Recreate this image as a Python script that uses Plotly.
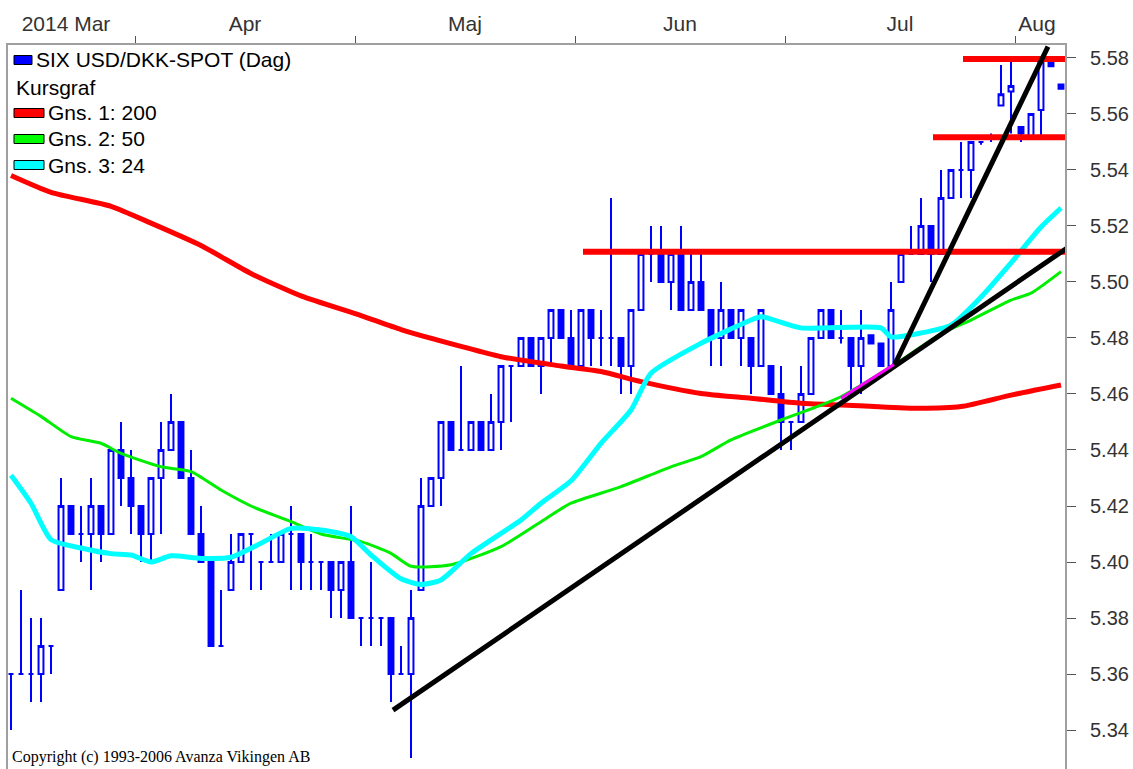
import plotly.graph_objects as go
import pandas as pd

# ---------------- data ----------------
dates = pd.bdate_range("2014-03-14", "2014-08-08")  # 106 trading days
day = list(range(len(dates)))

open_ = [5.36, 5.36, 5.36, 5.36, 5.37, 5.39, 5.42, 5.41, 5.41, 5.42,
         5.41, 5.44, 5.43, 5.42, 5.41, 5.43, 5.44, 5.45, 5.43, 5.41,
         5.40, 5.37, 5.39, 5.40, 5.41, 5.40, 5.40, 5.40, 5.41, 5.41,
         5.40, 5.40, 5.40, 5.39, 5.40, 5.38, 5.38, 5.38, 5.38, 5.36,
         5.36, 5.39, 5.42, 5.43, 5.45, 5.44, 5.44, 5.45, 5.44, 5.45,
         5.47, 5.47, 5.48, 5.47, 5.48, 5.49, 5.48, 5.47, 5.49, 5.48,
         5.48, 5.48, 5.47, 5.49, 5.51, 5.51, 5.50, 5.51, 5.49, 5.50,
         5.49, 5.48, 5.49, 5.48, 5.48, 5.47, 5.47, 5.46, 5.45, 5.45,
         5.46, 5.48, 5.49, 5.48, 5.48, 5.47, 5.481, 5.478, 5.47, 5.50,
         5.51, 5.51, 5.52, 5.51, 5.53, 5.54, 5.54, 5.55, 5.552, 5.563,
         5.568, 5.5553, 5.552, 5.5614, 5.5787, 5.5705]
high = [5.36, 5.39, 5.38, 5.38, 5.37, 5.43, 5.42, 5.42, 5.43, 5.42,
        5.44, 5.45, 5.44, 5.42, 5.43, 5.45, 5.46, 5.45, 5.44, 5.42,
        5.40, 5.39, 5.41, 5.41, 5.41, 5.40, 5.41, 5.41, 5.42, 5.41,
        5.41, 5.40, 5.40, 5.40, 5.42, 5.38, 5.40, 5.38, 5.38, 5.37,
        5.39, 5.43, 5.43, 5.45, 5.45, 5.47, 5.45, 5.45, 5.46, 5.47,
        5.47, 5.48, 5.48, 5.48, 5.49, 5.49, 5.49, 5.49, 5.49, 5.49,
        5.53, 5.48, 5.49, 5.51, 5.52, 5.52, 5.51, 5.52, 5.51, 5.51,
        5.49, 5.50, 5.49, 5.49, 5.48, 5.49, 5.47, 5.47, 5.45, 5.47,
        5.48, 5.49, 5.49, 5.49, 5.48, 5.49, 5.481, 5.478, 5.50, 5.51,
        5.52, 5.53, 5.52, 5.54, 5.54, 5.55, 5.55, 5.55, 5.553, 5.5775,
        5.58, 5.5553, 5.560, 5.58, 5.579, 5.5705]
low = [5.34, 5.36, 5.35, 5.35, 5.36, 5.39, 5.41, 5.40, 5.39, 5.40,
       5.41, 5.42, 5.41, 5.40, 5.40, 5.41, 5.44, 5.43, 5.41, 5.40,
       5.37, 5.37, 5.39, 5.40, 5.39, 5.39, 5.40, 5.40, 5.39, 5.39,
       5.39, 5.39, 5.38, 5.38, 5.38, 5.37, 5.37, 5.37, 5.35, 5.36,
       5.33, 5.39, 5.42, 5.42, 5.44, 5.44, 5.44, 5.44, 5.44, 5.44,
       5.45, 5.47, 5.47, 5.46, 5.47, 5.48, 5.47, 5.47, 5.47, 5.47,
       5.47, 5.46, 5.46, 5.49, 5.50, 5.50, 5.49, 5.49, 5.49, 5.49,
       5.47, 5.47, 5.48, 5.47, 5.46, 5.47, 5.46, 5.44, 5.44, 5.45,
       5.46, 5.48, 5.48, 5.478, 5.46, 5.46, 5.478, 5.47, 5.47, 5.50,
       5.51, 5.51, 5.50, 5.51, 5.53, 5.53, 5.53, 5.549, 5.55, 5.563,
       5.553, 5.55, 5.551, 5.5507, 5.577, 5.569]
close = [5.36, 5.36, 5.36, 5.37, 5.37, 5.42, 5.41, 5.41, 5.42, 5.41,
         5.44, 5.43, 5.42, 5.41, 5.43, 5.44, 5.45, 5.43, 5.41, 5.40,
         5.37, 5.37, 5.40, 5.41, 5.41, 5.40, 5.40, 5.41, 5.41, 5.40,
         5.40, 5.40, 5.39, 5.40, 5.38, 5.38, 5.38, 5.38, 5.36, 5.36,
         5.38, 5.42, 5.43, 5.45, 5.44, 5.44, 5.45, 5.44, 5.45, 5.47,
         5.47, 5.48, 5.47, 5.48, 5.49, 5.48, 5.47, 5.49, 5.48, 5.48,
         5.48, 5.47, 5.49, 5.51, 5.51, 5.50, 5.51, 5.49, 5.50, 5.49,
         5.48, 5.49, 5.48, 5.49, 5.47, 5.49, 5.46, 5.45, 5.45, 5.46,
         5.48, 5.49, 5.48, 5.48, 5.47, 5.48, 5.478, 5.47, 5.49, 5.51,
         5.51, 5.52, 5.51, 5.53, 5.54, 5.54, 5.55, 5.55, 5.552, 5.567,
         5.570, 5.553, 5.560, 5.5787, 5.577, 5.569]

# moving averages (day index, value)
ma200_day = [0, 4, 10, 14, 19, 24, 29, 35, 39, 45, 49, 55, 59, 63, 69, 74, 79, 83, 90, 95, 100, 105]
ma200_val = [5.538, 5.532, 5.527, 5.521, 5.513, 5.503, 5.495, 5.488, 5.483, 5.477, 5.4733,
             5.470, 5.468, 5.4644, 5.4602, 5.4585, 5.4567, 5.4561, 5.4549, 5.4555, 5.4596, 5.4632]
ma50_day = [0, 3, 6, 9, 11, 15, 18, 21, 24, 28, 31, 35, 38, 40, 44, 49, 53, 56, 61, 66, 69, 72,
            77, 81, 83, 89, 93, 96, 100, 102, 105]
ma50_val = [5.4585, 5.452, 5.4448, 5.4424, 5.4388, 5.434, 5.4323, 5.4257, 5.420, 5.4144, 5.410,
            5.4073, 5.4031, 5.3985, 5.399, 5.4055, 5.4144, 5.421, 5.4269, 5.434, 5.4376, 5.4436,
            5.4507, 5.456, 5.459, 5.472, 5.4815, 5.4864, 5.4935, 5.496, 5.5037]
ma24_day = [0, 2, 4, 7, 10, 12, 14, 16, 19, 22, 25, 28, 31, 34, 36, 39, 41, 43, 46, 51, 53, 56,
            59, 62, 64, 69, 74, 75, 79, 87, 88, 91, 94, 97, 100, 103, 105]
ma24_val = [5.431, 5.421, 5.408, 5.405, 5.403, 5.4025, 5.400, 5.4022, 5.4013, 5.4017, 5.4067,
            5.412, 5.4114, 5.409, 5.4025, 5.394, 5.392, 5.3936, 5.403, 5.415, 5.421, 5.429,
            5.4424, 5.4543, 5.4674, 5.4781, 5.4864, 5.4876, 5.4836, 5.4836, 5.4804, 5.4818,
            5.4846, 5.4946, 5.5068, 5.5196, 5.5264]

# drawn trend lines and levels
trend1_day = [38.2, 105.6]
trend1_val = [5.3471, 5.5121]
trend2_day = [88.3, 103.7]
trend2_val = [5.470, 5.584]
trend3_day = [83.0, 88.3]
trend3_val = [5.4585, 5.4705]
level_val = [5.5108, 5.5517, 5.5796]
level_start = [57.2, 92.2, 95.2]

month_labels = ["2014 Mar", "Apr", "Maj", "Jun", "Jul", "Aug"]
y_ticks = [5.34, 5.36, 5.38, 5.40, 5.42, 5.44, 5.46, 5.48, 5.50, 5.52, 5.54, 5.56, 5.58]

legend_labels = ["SIX USD/DKK-SPOT (Dag)", "Kursgraf", "Gns. 1: 200", "Gns. 2: 50", "Gns. 3: 24"]
copyright_text = "Copyright (c) 1993-2006 Avanza Vikingen AB"

# ---------------- layout geometry ----------------
W, H = 1133, 769
L, R, T, B = 8, 68, 45, 0
X_RANGE = [-0.3, 105.4]
Y_RANGE = [5.3261, 5.5846]
BLUE = "#0000ff"
FONT = "Arial, Liberation Sans, sans-serif"


def px(x):
    return (x - L) / (W - L - R)


def py(y):
    return (H - B - y) / (H - T - B)


# month boundaries from dates
bounds = [i for i in range(1, len(dates)) if dates[i].month != dates[i - 1].month]
tick_marks = [b + 0.4 for b in bounds]
edges = [X_RANGE[0] - 1.1] + tick_marks + [X_RANGE[1] - 0.6]
label_pos = [(edges[k] + edges[k + 1]) / 2 for k in range(len(edges) - 1)]

fig = go.Figure()

fig.add_trace(go.Candlestick(
    x=day, open=open_, high=high, low=low, close=close,
    increasing=dict(line=dict(color=BLUE, width=2), fillcolor="white"),
    decreasing=dict(line=dict(color=BLUE, width=2), fillcolor=BLUE),
    whiskerwidth=0, showlegend=False, hoverinfo="skip",
))

fig.add_trace(go.Scatter(x=ma200_day, y=ma200_val, mode="lines",
                         line=dict(color="#ff0000", width=5, shape="spline", smoothing=0.6),
                         showlegend=False, hoverinfo="skip"))
fig.add_trace(go.Scatter(x=ma50_day, y=ma50_val, mode="lines",
                         line=dict(color="#00ee00", width=3, shape="spline", smoothing=0.6),
                         showlegend=False, hoverinfo="skip"))
fig.add_trace(go.Scatter(x=ma24_day, y=ma24_val, mode="lines",
                         line=dict(color="#00ffff", width=5, shape="spline", smoothing=0.6),
                         showlegend=False, hoverinfo="skip"))

for lv, ls in zip(level_val, level_start):
    fig.add_trace(go.Scatter(x=[ls, X_RANGE[1]], y=[lv, lv], mode="lines",
                             line=dict(color="#ff0000", width=6),
                             showlegend=False, hoverinfo="skip"))

fig.add_trace(go.Scatter(x=trend1_day, y=trend1_val, mode="lines",
                         line=dict(color="black", width=5), showlegend=False, hoverinfo="skip"))
fig.add_trace(go.Scatter(x=trend2_day, y=trend2_val, mode="lines",
                         line=dict(color="black", width=5), showlegend=False, hoverinfo="skip"))
fig.add_trace(go.Scatter(x=trend3_day, y=trend3_val, mode="lines",
                         line=dict(color="#ff00ff", width=3), showlegend=False, hoverinfo="skip"))

# ---------------- legend (manual) ----------------
row_y = [60, 87, 113, 139, 165]
swatch = [(BLUE, 32), (None, None), ("#ff0000", 44), ("#00ff00", 44), ("#00ffff", 44)]
shapes = []
annotations = []
for (col, xr), yy, lab in zip(swatch, row_y, legend_labels):
    tx = 14
    if col is not None:
        shapes.append(dict(type="rect", xref="paper", yref="paper",
                           x0=px(14), x1=px(xr), y0=py(yy + 4.5), y1=py(yy - 4.5),
                           fillcolor=col, line=dict(color="black", width=1), layer="above"))
        tx = xr + 2
    annotations.append(dict(text=lab, xref="paper", yref="paper", x=px(tx), y=py(yy),
                            xanchor="left", yanchor="middle", showarrow=False,
                            font=dict(family=FONT, size=21, color="black")))

annotations.append(dict(text=copyright_text, xref="paper", yref="paper", x=px(10), y=py(757),
                        xanchor="left", yanchor="middle", showarrow=False,
                        font=dict(family="Liberation Serif, Times New Roman, serif", size=16,
                                  color="black")))

fig.update_layout(
    width=W, height=H,
    margin=dict(l=L, r=R, t=T, b=B, pad=0),
    paper_bgcolor="white", plot_bgcolor="white",
    shapes=shapes, annotations=annotations,
    showlegend=False,
    xaxis=dict(
        range=X_RANGE, side="top", showgrid=False, zeroline=False,
        showline=True, linecolor="#a0a0a0", linewidth=2,
        tickmode="array", tickvals=label_pos, ticktext=month_labels, ticks="",
        tickfont=dict(family=FONT, size=21, color="#333333"),
        ticklabelstandoff=4,
        minor=dict(tickmode="array", tickvals=tick_marks, ticks="outside", ticklen=7,
                   tickcolor="#555555", tickwidth=1, showgrid=False),
        rangeslider=dict(visible=False), fixedrange=True,
    ),
    yaxis=dict(
        range=Y_RANGE, side="right", showgrid=False, zeroline=False,
        showline=True, linecolor="#a0a0a0", linewidth=2, mirror=True,
        tickmode="array", tickvals=y_ticks, ticktext=[f"{v:.2f}" for v in y_ticks],
        ticks="outside", ticklen=9, tickcolor="#555555", tickwidth=1,
        tickfont=dict(family=FONT, size=20, color="#333333"),
        ticklabelstandoff=10, fixedrange=True,
    ),
)

# remove the browser's default 8px body margin so the figure sits at the page origin
fig.write_html("out.html",
               config={"displayModeBar": False, "staticPlot": True},
               post_script="document.body.style.margin='0px';document.body.style.overflow='hidden';")
